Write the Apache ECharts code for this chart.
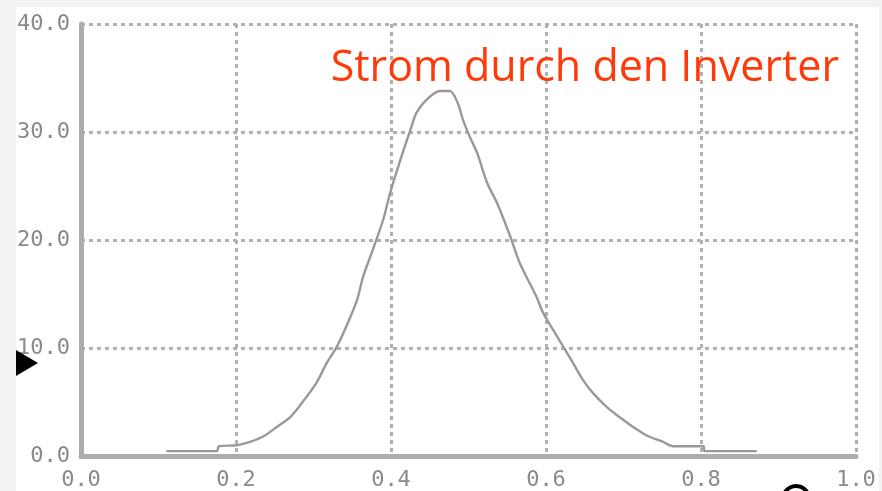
<!DOCTYPE html>
<html>
<head>
<meta charset="utf-8">
<script src="https://cdn.jsdelivr.net/npm/echarts@6/dist/echarts.min.js"></script>
<style>
  html, body { margin: 0; padding: 0; background: #f2f2f2; }
  #chart { width: 882px; height: 491px; }
</style>
</head>
<body>
<div id="chart"></div>
<script>
var titleText = 'Strom durch den Inverter';

// curve (x, current)
var curveX = [0.11, 0.175, 0.178, 0.201, 0.218, 0.235, 0.253, 0.27, 0.286, 0.304,
    0.317, 0.33, 0.343, 0.356, 0.364, 0.375, 0.39, 0.399, 0.412, 0.425,
    0.433, 0.446, 0.463, 0.476, 0.486, 0.493, 0.502, 0.511, 0.524, 0.537,
    0.554, 0.566, 0.588, 0.596, 0.609, 0.625, 0.635, 0.648, 0.661, 0.679,
    0.695, 0.712, 0.73, 0.751, 0.764, 0.803, 0.805, 0.872];
var curveY = [0.45, 0.45, 0.9, 1.0, 1.3, 1.8, 2.7, 3.6, 5.0, 6.8,
    8.6, 10.1, 12.1, 14.4, 16.6, 18.8, 21.9, 24.4, 27.4, 30.2,
    31.8, 33.0, 33.8, 33.8, 32.7, 31.1, 29.5, 28.1, 25.3, 23.4,
    20.3, 17.9, 14.7, 13.3, 11.7, 9.8, 8.6, 7.0, 5.8, 4.5,
    3.6, 2.7, 1.9, 1.3, 0.9, 0.9, 0.45, 0.45];

var xTicks = [0, 0.2, 0.4, 0.6, 0.8, 1.0];
var yTicks = [0, 10, 20, 30, 40];

var points = curveX.map(function (x, i) { return [x, curveY[i]]; });

var labelStyle = {
    color: '#8a8a8a',
    fontFamily: 'DejaVu Sans Mono',
    fontSize: 22,
    formatter: function (v) { return v.toFixed(1); }
};
var gridLine = {
    show: true,
    lineStyle: { color: '#b0b0b0', width: 3, type: [4, 4] }
};

var chart = echarts.init(document.getElementById('chart'));
chart.setOption({
    backgroundColor: '#f2f2f2',
    animation: false,
    title: {
        text: titleText,
        right: 38,
        top: 42,
        textStyle: {
            color: '#ff3a0a',
            fontFamily: 'Open Sans',
            fontWeight: 'normal',
            fontSize: 43
        }
    },
    graphic: [
        {
            type: 'rect', z: -10, silent: true,
            shape: { x: 16, y: 7, width: 863, height: 484 },
            style: { fill: '#ffffff' }
        },
        {
            type: 'polygon', z: 10, silent: true,
            shape: { points: [[16, 350], [38, 363], [16, 376]] },
            style: { fill: '#000000' }
        },
        {
            type: 'arc', z: 10, silent: true,
            shape: { cx: 796, cy: 499, r: 13, startAngle: Math.PI * 1.1, endAngle: Math.PI * 1.9 },
            style: { stroke: '#000000', lineWidth: 4, fill: null }
        }
    ],
    grid: { left: 81, right: 26, top: 24, bottom: 35 },
    xAxis: {
        type: 'value',
        min: xTicks[0],
        max: xTicks[xTicks.length - 1],
        interval: 0.2,
        axisLine: { lineStyle: { color: '#adadad', width: 5 } },
        axisTick: { show: false },
        axisLabel: Object.assign({ margin: 13 }, labelStyle),
        splitLine: gridLine
    },
    yAxis: {
        type: 'value',
        min: yTicks[0],
        max: yTicks[yTicks.length - 1],
        interval: 10,
        axisLine: { show: true, lineStyle: { color: '#adadad', width: 5 } },
        axisTick: { show: false },
        axisLabel: Object.assign({ margin: 11 }, labelStyle),
        splitLine: gridLine
    },
    series: [{
        type: 'line',
        data: points,
        showSymbol: false,
        smooth: 0.3,
        lineStyle: { color: '#999999', width: 2.4 }
    }]
});
</script>
</body>
</html>
